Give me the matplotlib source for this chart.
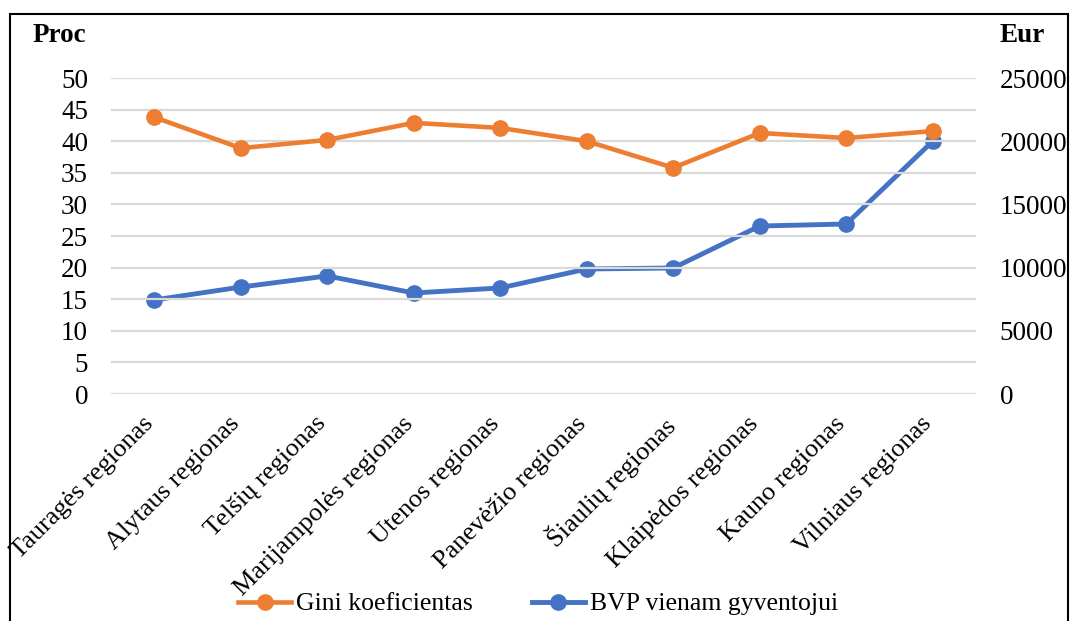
import matplotlib
matplotlib.use("Agg")
import matplotlib.pyplot as plt
from matplotlib.lines import Line2D
from matplotlib.patches import Rectangle
from matplotlib.transforms import ScaledTranslation

regions = ["Tauragės regionas", "Alytaus regionas", "Telšių regionas",
           "Marijampolės regionas", "Utenos regionas", "Panevėžio regionas",
           "Šiaulių regionas", "Klaipėdos regionas", "Kauno regionas",
           "Vilniaus regionas"]
gini = [43.8, 38.9, 40.2, 42.9, 42.1, 40.0, 35.8, 41.3, 40.5, 41.6]
bvp = [7440, 8460, 9340, 7990, 8390, 9890, 9970, 13290, 13450, 20000]
left_ticks = [0, 5, 10, 15, 20, 25, 30, 35, 40, 45, 50]
right_ticks = [0, 5000, 10000, 15000, 20000, 25000]

ORANGE = "#ED7D31"
BLUE = "#4472C4"
GRID = "#D9D9D9"

plt.rcParams["font.family"] = ["Liberation Serif", "DejaVu Serif"]

W, H = 1070, 621
fig = plt.figure(figsize=(W / 100, H / 100), dpi=100)
ax = fig.add_axes([111 / W, 1 - 394 / H, (976 - 111) / W, (394 - 78) / H])
ax2 = ax.twinx()

x = list(range(len(regions)))
ax.plot(x, gini, color=ORANGE, lw=3.3, marker="o", ms=11, zorder=3)
ax2.plot(x, bvp, color=BLUE, lw=3.5, marker="o", ms=11, zorder=3)

ax.set_xlim(-0.5, len(regions) - 0.5)
ax.set_ylim(0, 50)
ax2.set_ylim(0, 25000)
ax.set_yticks(left_ticks)
ax2.set_yticks(right_ticks)
ax.grid(axis="y", color=GRID, lw=1.6)
ax.set_axisbelow(True)

for a in (ax, ax2):
    for s in a.spines.values():
        s.set_visible(False)
    a.tick_params(length=0, labelsize=19.5)

ax.tick_params(axis="y", pad=16.5)
ax2.tick_params(axis="y", pad=17)
ax.set_xticks(x)
ax.set_xticklabels(regions, rotation=45, ha="right", rotation_mode="anchor",
                   fontsize=19)
ax.tick_params(axis="x", pad=6)
shift = ScaledTranslation(-12 / 100, -10 / 100, fig.dpi_scale_trans)
for lbl in ax.get_xticklabels():
    lbl.set_transform(lbl.get_transform() + shift)

ax.set_zorder(ax2.get_zorder() + 1)
ax.patch.set_visible(False)

fig.text(33 / W, 1 - 36 / H, "Proc", fontsize=19.5, fontweight="bold",
         ha="left", va="center")
fig.text(1000 / W, 1 - 36 / H, "Eur", fontsize=19.5, fontweight="bold",
         ha="left", va="center")

handles = [Line2D([], [], color=ORANGE, lw=3.3, marker="o", ms=11),
           Line2D([], [], color=BLUE, lw=3.5, marker="o", ms=11)]
fig.legend(handles, ["Gini koeficientas", "BVP vienam gyventojui"],
           loc="center", bbox_to_anchor=(538 / W, 1 - 604 / H), ncol=2,
           frameon=False, fontsize=18.5, handlelength=2.05, handletextpad=0.2,
           columnspacing=2.3, borderpad=0)

fig.add_artist(Rectangle((10 / W, -0.05), (1068 - 10) / W, 1.05 - 14 / H,
                         transform=fig.transFigure, fill=False,
                         edgecolor="black", lw=1.5, clip_on=False))

fig.savefig("out.png", dpi=100)
